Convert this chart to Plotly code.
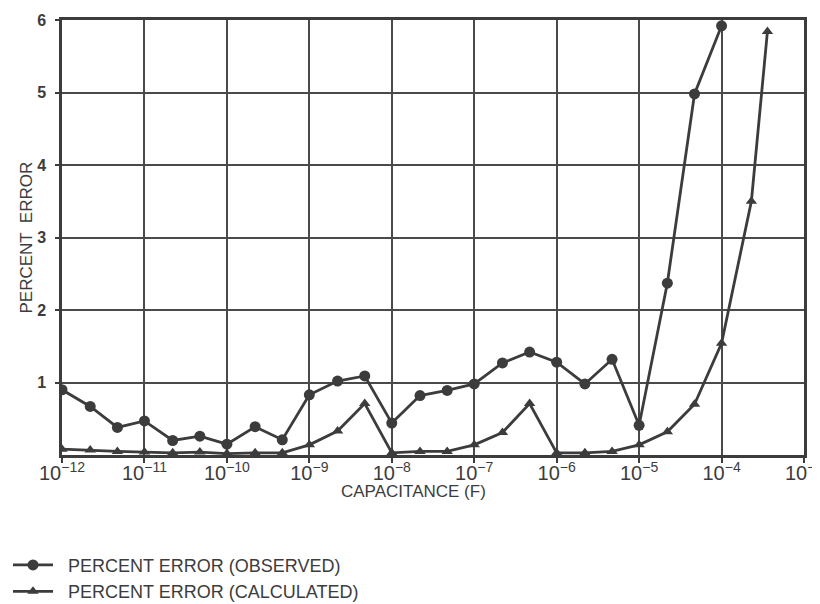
import plotly.graph_objects as go

# === Capacitance values (F), E3 steps per decade
cap_observed = [
    1e-12, 2.2e-12, 4.7e-12, 1e-11, 2.2e-11, 4.7e-11, 1e-10, 2.2e-10, 4.7e-10,
    1e-9, 2.2e-9, 4.7e-9, 1e-8, 2.2e-8, 4.7e-8, 1e-7, 2.2e-7, 4.7e-7,
    1e-6, 2.2e-6, 4.7e-6, 1e-5, 2.2e-5, 4.7e-5, 1e-4,
]
err_observed = [
    0.90, 0.67, 0.38, 0.47, 0.20, 0.26, 0.15, 0.39, 0.21,
    0.83, 1.02, 1.09, 0.44, 0.82, 0.89, 0.98, 1.27, 1.42,
    1.28, 0.98, 1.32, 0.41, 2.37, 4.98, 5.92,
]

cap_calculated = cap_observed + [2.3e-4, 3.6e-4]
err_calculated = [
    0.08, 0.07, 0.05, 0.04, 0.03, 0.04, 0.02, 0.03, 0.03,
    0.14, 0.33, 0.71, 0.03, 0.05, 0.05, 0.14, 0.31, 0.71,
    0.03, 0.03, 0.05, 0.14, 0.32, 0.70, 1.54, 3.50, 5.84,
]

ink = "#3c3c3c"
font = "Liberation Sans, Arial, sans-serif"
gap = "\u00a0\u00a0"  # a little room between legend symbol and label

fig = go.Figure()

fig.add_trace(go.Scatter(
    x=cap_observed, y=err_observed, mode="lines+markers",
    name=gap + "PERCENT ERROR (OBSERVED)",
    line=dict(color=ink, width=2.8),
    marker=dict(symbol="circle", size=11, color=ink),
))
fig.add_trace(go.Scatter(
    x=cap_calculated, y=err_calculated, mode="lines+markers",
    name=gap + "PERCENT ERROR (CALCULATED)",
    line=dict(color=ink, width=2.8),
    marker=dict(symbol="triangle-up", size=10, color=ink),
))

# page has an 8px body margin, so the plot box is nudged up/left by 8px
fig.update_layout(
    width=820, height=604,
    margin=dict(l=54, r=24, t=12, b=157, autoexpand=False),
    paper_bgcolor="white", plot_bgcolor="white",
    font=dict(family=font, color=ink, size=17),
    showlegend=True,
    legend=dict(
        xref="container", yref="container",
        x=0.0, y=0.108, xanchor="left", yanchor="top",
        font=dict(size=18, color=ink),
        bgcolor="rgba(0,0,0,0)", itemwidth=40,
    ),
    xaxis=dict(
        type="log", range=[-12, -3], dtick=1,
        exponentformat="power", showexponent="all",
        showgrid=True, gridcolor="#4a4a4a", gridwidth=1.5,
        showline=True, linecolor=ink, linewidth=2.5, mirror=True,
        ticks="outside", ticklen=5, tickwidth=1.5, tickcolor=ink,
        tickfont=dict(size=16), ticklabeloverflow="allow",
        ticklabelstandoff=-6,
        zeroline=False, automargin=False,
    ),
    yaxis=dict(
        range=[0, 6], tickvals=[1, 2, 3, 4, 5, 6],
        showgrid=True, gridcolor="#4a4a4a", gridwidth=1.5,
        showline=True, linecolor=ink, linewidth=2.5, mirror=True,
        ticks="outside", ticklen=4, tickwidth=1.5, tickcolor=ink,
        tickfont=dict(size=16, weight="bold"),
        ticklabelstandoff=6,
        zeroline=False, automargin=False,
    ),
    annotations=[
        dict(text="CAPACITANCE (F)", xref="paper", yref="paper",
             x=0.474, y=-0.085, xanchor="center", yanchor="middle",
             showarrow=False, font=dict(size=17, color=ink)),
        dict(text="PERCENT  ERROR", xref="paper", yref="paper",
             x=-0.0485, y=0.5, xanchor="center", yanchor="middle",
             textangle=-90, showarrow=False, font=dict(size=17, color=ink)),
    ],
)

fig.write_html("out.html")
